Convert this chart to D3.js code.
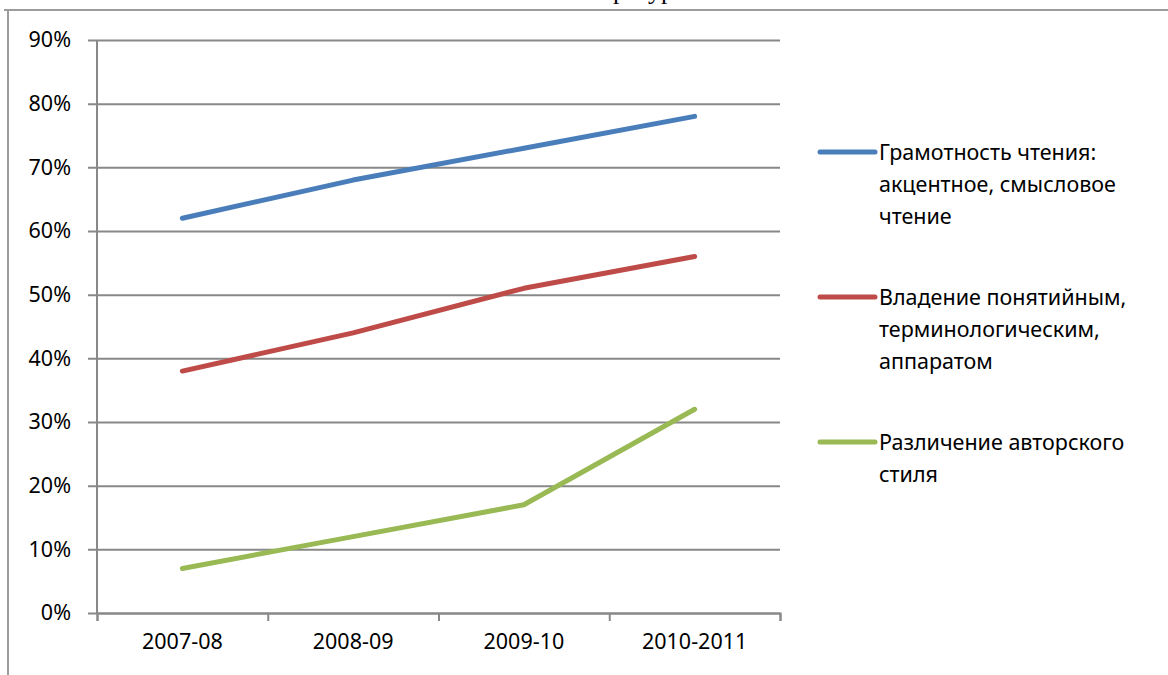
<!DOCTYPE html>
<html lang="ru">
    <head>
        <meta charset="UTF-8" />
        <title>line chart</title>
        <script src="https://cdn.jsdelivr.net/npm/d3@7"></script>
    </head>
    <body style="padding: 0; margin: 0; background-color: #fff;">
        <script>
            // данные
            const years = ['2007-08', '2008-09', '2009-10', '2010-2011'];
            const reading = [62, 68, 73, 78];
            const terms = [38, 44, 51, 56];
            const style = [7, 12, 17, 32];
            const seriesNames = [
                ['Грамотность чтения:', 'акцентное, смысловое', 'чтение'],
                ['Владение понятийным,', 'терминологическим,', 'аппаратом'],
                ['Различение авторского', 'стиля']
            ];
            const yTicks = [0, 10, 20, 30, 40, 50, 60, 70, 80, 90];

            const series = [
                { values: reading, color: '#4a7ebb', label: seriesNames[0] },
                { values: terms, color: '#be4b48', label: seriesNames[1] },
                { values: style, color: '#98b954', label: seriesNames[2] }
            ];

            const width = 1168;
            const height = 675;
            const font = '"Noto Sans", "DejaVu Sans", sans-serif';
            const fontSize = '21.5px';
            const gridColor = '#888';

            const svg = d3
                .select('body')
                .append('svg')
                .attr('width', width)
                .attr('height', height)
                .style('display', 'block')
                .style('font-family', font);

            // обрезанный заголовок сверху (виден только низ букв)
            svg.append('text')
                .attr('x', 622)
                .attr('y', -1)
                .attr('text-anchor', 'middle')
                .style('font-family', '"Liberation Serif", "DejaVu Serif", serif')
                .style('font-size', '26px')
                .text('Литература');

            // рамка
            svg.append('line')
                .attr('x1', 4).attr('x2', width)
                .attr('y1', 10).attr('y2', 10)
                .attr('stroke', '#9c9c9c').attr('stroke-width', 2);
            svg.append('line')
                .attr('x1', 8).attr('x2', 8)
                .attr('y1', 10).attr('y2', height)
                .attr('stroke', '#9c9c9c').attr('stroke-width', 2);

            const plotLeft = 97, plotRight = 780, plotTop = 40, plotBottom = 613;

            const x = d3.scaleBand().domain(years).range([plotLeft, plotRight]);
            const xEdge = d3.scaleLinear().domain([0, years.length]).range([plotLeft, plotRight]);
            const y = d3.scaleLinear().domain([0, 90]).range([plotBottom, plotTop]);

            // сетка и подписи оси Y
            const yAxis = svg.append('g')
                .attr('transform', `translate(${plotLeft - 9},0)`)
                .call(
                    d3.axisLeft(y)
                        .tickValues(yTicks)
                        .tickSize(-(plotRight - plotLeft + 9))
                        .tickPadding(17)
                        .tickFormat(d => d + '%')
                );
            yAxis.select('.domain').remove();
            yAxis.selectAll('line').attr('stroke', gridColor).attr('stroke-width', 2);
            yAxis.selectAll('text')
                .style('font-family', font)
                .style('font-size', fontSize)
                .attr('fill', '#000');

            // ось Y
            svg.append('line')
                .attr('x1', plotLeft).attr('x2', plotLeft)
                .attr('y1', plotTop).attr('y2', plotBottom)
                .attr('stroke', gridColor).attr('stroke-width', 2);

            // засечки оси X
            const xTicks = svg.append('g')
                .attr('transform', `translate(0,${plotBottom})`)
                .call(
                    d3.axisBottom(xEdge)
                        .tickValues(d3.range(years.length + 1))
                        .tickSize(8)
                        .tickFormat('')
                );
            xTicks.select('.domain').attr('stroke', gridColor).attr('stroke-width', 2);
            xTicks.selectAll('line').attr('stroke', gridColor).attr('stroke-width', 2);

            // подписи оси X
            const xLabels = svg.append('g')
                .attr('transform', `translate(0,${plotBottom})`)
                .call(d3.axisBottom(x).tickSize(0).tickPadding(21));
            xLabels.select('.domain').remove();
            xLabels.selectAll('text')
                .style('font-family', font)
                .style('font-size', fontSize)
                .attr('fill', '#000');

            // линии
            const line = d3.line()
                .x((d, i) => x(years[i]) + x.bandwidth() / 2)
                .y(d => y(d));

            svg.selectAll('.series')
                .data(series)
                .join('path')
                .attr('class', 'series')
                .attr('d', d => line(d.values))
                .attr('fill', 'none')
                .attr('stroke', d => d.color)
                .attr('stroke-width', 5)
                .attr('stroke-linecap', 'round')
                .attr('stroke-linejoin', 'round');

            // легенда
            const legendY = [152, 297, 442];
            const lineH = 32;
            const legend = svg.selectAll('.legend')
                .data(series)
                .join('g')
                .attr('class', 'legend')
                .attr('transform', (d, i) => `translate(820,${legendY[i]})`);

            legend.append('line')
                .attr('x1', 0).attr('x2', 55)
                .attr('stroke', d => d.color)
                .attr('stroke-width', 5)
                .attr('stroke-linecap', 'round');

            legend.each(function (d) {
                const t = d3.select(this).append('text')
                    .attr('x', 59)
                    .style('font-size', fontSize)
                    .attr('fill', '#000');
                t.selectAll('tspan')
                    .data(d.label)
                    .join('tspan')
                    .attr('x', 59)
                    .attr('y', (s, i) => i * lineH)
                    .attr('dy', '0.35em')
                    .text(s => s);
            });
        </script>
    </body>
</html>
